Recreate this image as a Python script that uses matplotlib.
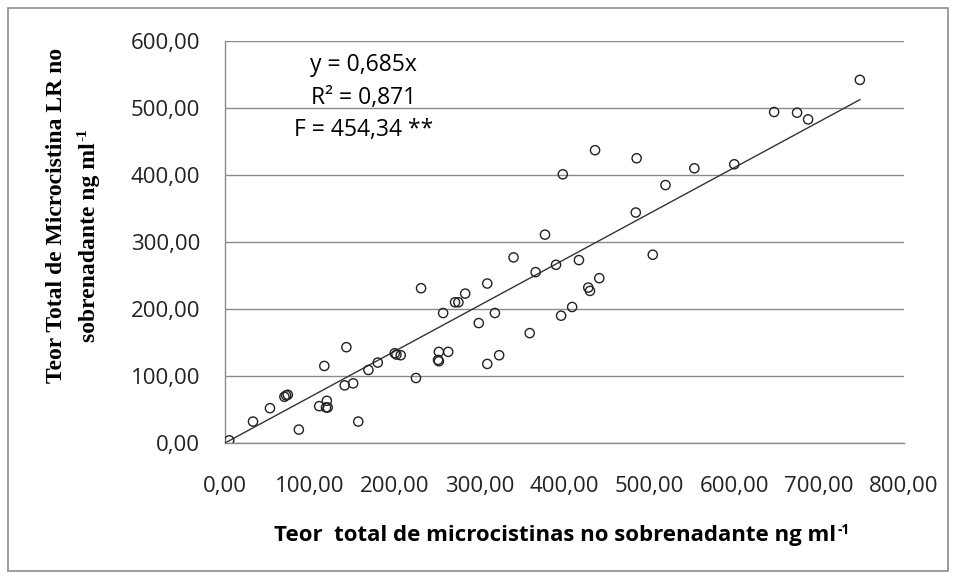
import matplotlib
matplotlib.use("Agg")
import matplotlib.pyplot as plt
from matplotlib.patches import Rectangle

# teor total de microcistinas no sobrenadante (x) vs microcistina LR (y)
x_total = [5, 33, 53, 70, 72, 74, 87, 117, 111, 120, 119, 121, 143, 141, 151,
           157, 169, 180, 200, 202, 207, 225, 231, 257, 252, 263, 251, 252,
           271, 275, 283, 309, 299, 318, 309, 323, 340, 359, 366, 390, 417,
           504, 441, 428, 430, 409, 396, 377, 398, 436, 485, 519, 553, 600,
           484, 647, 674, 687, 748]
y_lr = [4, 32, 52, 69, 71, 72, 20, 115, 55, 63, 53, 53, 143, 86, 89,
        32, 109, 120, 134, 132, 131, 97, 231, 194, 136, 136, 124, 122,
        210, 210, 223, 238, 179, 194, 118, 131, 277, 164, 255, 266, 273,
        281, 246, 232, 227, 203, 190, 311, 401, 437, 425, 385, 410, 416,
        344, 494, 493, 483, 542]

slope = 0.685
eq_lines = ["y = 0,685x", "R\u00b2 = 0,871", "F = 454,34 **"]
x_ticks = [0, 100, 200, 300, 400, 500, 600, 700, 800]
y_ticks = [0, 100, 200, 300, 400, 500, 600]

W, H = 956, 579
fig = plt.figure(figsize=(W / 100, H / 100), dpi=100)
fig.patch.set_facecolor("white")
fig.patches.append(Rectangle((8 / W, 8 / H), 940 / W, 563 / H, transform=fig.transFigure,
                             fill=False, edgecolor="#8c8c8c", linewidth=1.2))

ax = fig.add_axes([225 / W, 1 - 443 / H, 679 / W, 402 / H])
ax.set_xlim(0, 800)
ax.set_ylim(0, 600)

ax.grid(axis="y", color="#8a8a8a", linewidth=1)
ax.set_axisbelow(True)
for s in ["top", "right"]:
    ax.spines[s].set_visible(False)
for s in ["left", "bottom"]:
    ax.spines[s].set_color("#8a8a8a")
    ax.spines[s].set_linewidth(1)

tick_font = "Open Sans"
ax.set_xticks(x_ticks)
ax.set_yticks(y_ticks)
ax.set_xticklabels([f"{v:.2f}".replace(".", ",") for v in x_ticks], fontsize=16, family=tick_font)
ax.set_yticklabels([f"{v:.2f}".replace(".", ",") for v in y_ticks], fontsize=16, family=tick_font)
ax.tick_params(length=0, colors="#222222")
ax.tick_params(axis="y", pad=18)
ax.tick_params(axis="x", pad=24)

ax.scatter(x_total, y_lr, s=44, facecolors="none", edgecolors="#222222", linewidths=1, zorder=3)
xl = max(x_total)
ax.plot([0, xl], [0, slope * xl], color="#333333", linewidth=1, zorder=2)

for i, t in enumerate(eq_lines):
    ax.text(163, 564 - i * 48.5, t, ha="center", va="center", fontsize=16.5, family=tick_font)

# x axis title with small "-1" superscript
xt = fig.text(555 / W, 1 - 536 / H, "Teor  total de microcistinas no sobrenadante ng ml",
              ha="center", va="center", fontsize=16, fontweight="bold", family=tick_font)
ax.annotate("-1", xy=(1, 0.8), xycoords=xt, xytext=(1, 0), textcoords="offset points",
            ha="left", va="center", fontsize=10, fontweight="bold", family=tick_font)

# y axis title (two lines, serif)
fig.text(57 / W, 1 - 215 / H, "Teor Total de Microcistina LR no", rotation=90,
         ha="center", va="center", fontsize=17, fontweight="bold", family="Liberation Serif")
yt = fig.text(89 / W, 1 - 242 / H, "sobrenadante ng ml", rotation=90,
              ha="center", va="center", fontsize=17, fontweight="bold", family="Liberation Serif")
ax.annotate("-1", xy=(0.2, 1), xycoords=yt, xytext=(0, 1), textcoords="offset points",
            rotation=90, ha="center", va="bottom", fontsize=11, fontweight="bold",
            family="Liberation Serif")

fig.savefig("out.png", dpi=100)
